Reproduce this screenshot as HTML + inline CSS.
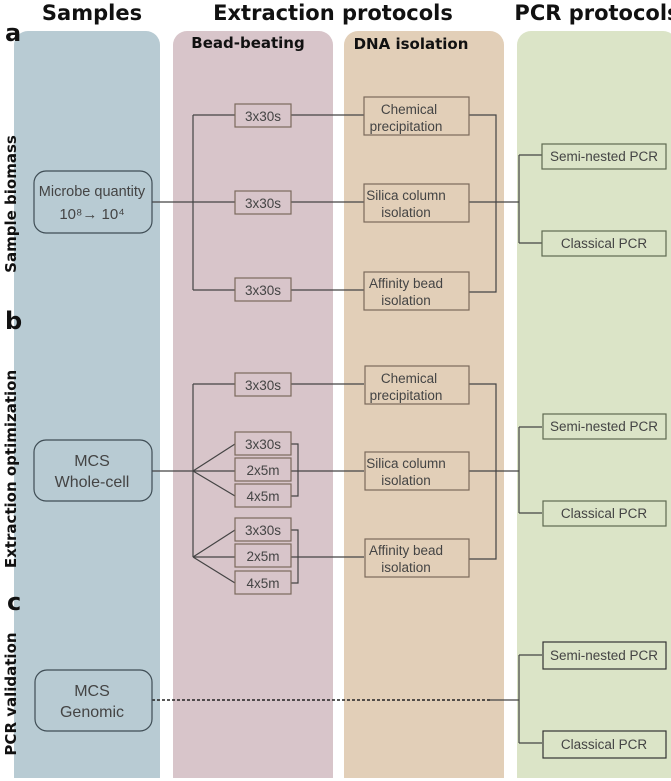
<!DOCTYPE html>
<html><head><meta charset="utf-8"><style>
html,body{margin:0;padding:0;background:#fff;}
svg{display:block;}
.h{font-family:"DejaVu Sans",sans-serif;font-weight:bold;fill:#111;}
.t{font-family:"Liberation Sans",sans-serif;font-size:13.5px;fill:#444;text-anchor:middle;}
.b1{fill:#d8c5ca;stroke:#7b6a5c;stroke-width:1.2;}
.b2{fill:#e2cfb8;stroke:#7b6a5c;stroke-width:1.2;}
.g{fill:#dbe4c7;stroke:#5e6a50;stroke-width:1.2;}
.l{fill:none;stroke:#444;stroke-width:1.2;}
</style></head><body>
<svg width="671" height="781" viewBox="0 0 671 781" xmlns="http://www.w3.org/2000/svg">
<rect x="14" y="31" width="146" height="760" rx="14" fill="#b8cbd3"/>
<rect x="173" y="31" width="160" height="760" rx="14" fill="#d8c5ca"/>
<rect x="344" y="31" width="160" height="760" rx="14" fill="#e2cfb8"/>
<rect x="517" y="31" width="160" height="760" rx="14" fill="#dbe4c7"/>
<rect x="0" y="778" width="671" height="3" fill="#fff"/>
<text class="h" x="92" y="20" font-size="21" text-anchor="middle">Samples</text>
<text class="h" x="333" y="20" font-size="21" text-anchor="middle">Extraction protocols</text>
<text class="h" x="597" y="20" font-size="21" text-anchor="middle">PCR protocols</text>
<text class="h" x="248" y="48" font-size="15" text-anchor="middle">Bead-beating</text>
<text class="h" x="411" y="49" font-size="15" text-anchor="middle">DNA isolation</text>
<text class="h" x="5" y="41" font-size="24">a</text>
<text class="h" x="5" y="329" font-size="24">b</text>
<text class="h" x="7" y="610" font-size="24">c</text>
<text class="h" font-size="15" text-anchor="middle" transform="translate(16,204) rotate(-90)">Sample biomass</text>
<text class="h" font-size="15" text-anchor="middle" transform="translate(16,469) rotate(-90)">Extraction optimization</text>
<text class="h" font-size="15" text-anchor="middle" transform="translate(16,694) rotate(-90)">PCR validation</text>

<!-- panel a -->
<path class="l" d="M152 202H364M193 115V290M193 115H235M193 290H235M291 115H364M291 290H364M469 115H496V292H469M469 202H519M519 155V243M519 155H542M519 243H542"/>
<rect x="34" y="171" width="118" height="62" rx="12" fill="#b8cbd3" stroke="#3f4d55" stroke-width="1.2"/>
<text class="t" x="92" y="196" style="font-size:14.5px">Microbe quantity</text>
<text class="t" x="92" y="219" style="font-size:15px">10⁸→ 10⁴</text>
<rect class="b1" x="235" y="104" width="56" height="23"/><text class="t" x="263" y="121">3x30s</text>
<rect class="b1" x="235" y="191" width="56" height="23"/><text class="t" x="263" y="208">3x30s</text>
<rect class="b1" x="235" y="278" width="56" height="23"/><text class="t" x="263" y="295">3x30s</text>
<rect class="b2" x="364" y="97" width="105" height="38"/><text class="t" x="409" y="114">Chemical</text><text class="t" x="406" y="131">precipitation</text>
<rect class="b2" x="364" y="184" width="105" height="38"/><text class="t" x="406" y="200">Silica column</text><text class="t" x="406" y="217">isolation</text>
<rect class="b2" x="364" y="272" width="105" height="38"/><text class="t" x="406" y="288">Affinity bead</text><text class="t" x="406" y="305">isolation</text>
<rect class="g" x="542" y="144" width="124" height="25"/><text class="t" x="604" y="161">Semi-nested PCR</text>
<rect class="g" x="542" y="231" width="124" height="25"/><text class="t" x="604" y="248">Classical PCR</text>

<!-- panel b -->
<path class="l" d="M152 471H364M193 384V557M193 384H235M291 384H364M193 471L235 444M193 471L235 496M193 557L235 530M193 557H364M193 557L235 583M291 444H298V496H291M291 530H298V583H291M469 384H496V559H469M469 471H519M519 427V513M519 427H542M519 513H542"/>
<rect x="34" y="440" width="118" height="61" rx="12" fill="#b8cbd3" stroke="#3f4d55" stroke-width="1.2"/>
<text class="t" x="92" y="466" style="font-size:16px">MCS</text><text class="t" x="92" y="487" style="font-size:16px">Whole-cell</text>
<rect class="b1" x="235" y="373" width="56" height="23"/><text class="t" x="263" y="390">3x30s</text>
<rect class="b1" x="235" y="432" width="56" height="23"/><text class="t" x="263" y="449">3x30s</text>
<rect class="b1" x="235" y="458" width="56" height="23"/><text class="t" x="263" y="475">2x5m</text>
<rect class="b1" x="235" y="484" width="56" height="23"/><text class="t" x="263" y="501">4x5m</text>
<rect class="b1" x="235" y="518" width="56" height="23"/><text class="t" x="263" y="535">3x30s</text>
<rect class="b1" x="235" y="544" width="56" height="23"/><text class="t" x="263" y="561">2x5m</text>
<rect class="b1" x="235" y="571" width="56" height="23"/><text class="t" x="263" y="588">4x5m</text>
<rect class="b2" x="365" y="366" width="104" height="38"/><text class="t" x="409" y="383">Chemical</text><text class="t" x="406" y="400">precipitation</text>
<rect class="b2" x="365" y="452" width="104" height="38"/><text class="t" x="406" y="468">Silica column</text><text class="t" x="406" y="485">isolation</text>
<rect class="b2" x="365" y="539" width="104" height="38"/><text class="t" x="406" y="555">Affinity bead</text><text class="t" x="406" y="572">isolation</text>
<rect class="g" x="543" y="414" width="123" height="25"/><text class="t" x="604" y="431">Semi-nested PCR</text>
<rect class="g" x="543" y="501" width="123" height="25"/><text class="t" x="604" y="518">Classical PCR</text>

<!-- panel c -->
<path d="M152 700H490" stroke="#222" stroke-width="1.5" stroke-dasharray="3,2" fill="none"/>
<path class="l" d="M490 700H519M519 655V743M519 655H542M519 743H542"/>
<rect x="35" y="670" width="117" height="61" rx="12" fill="#b8cbd3" stroke="#3f4d55" stroke-width="1.2"/>
<text class="t" x="92" y="696" style="font-size:16px">MCS</text><text class="t" x="92" y="717" style="font-size:16px">Genomic</text>
<rect x="543" y="642" width="123" height="27" fill="#dbe4c7" stroke="#333" stroke-width="1.2"/><text class="t" x="604" y="660" fill="#222">Semi-nested PCR</text>
<rect x="543" y="731" width="123" height="27" fill="#dbe4c7" stroke="#333" stroke-width="1.2"/><text class="t" x="604" y="749">Classical PCR</text>
</svg>
</body></html>
